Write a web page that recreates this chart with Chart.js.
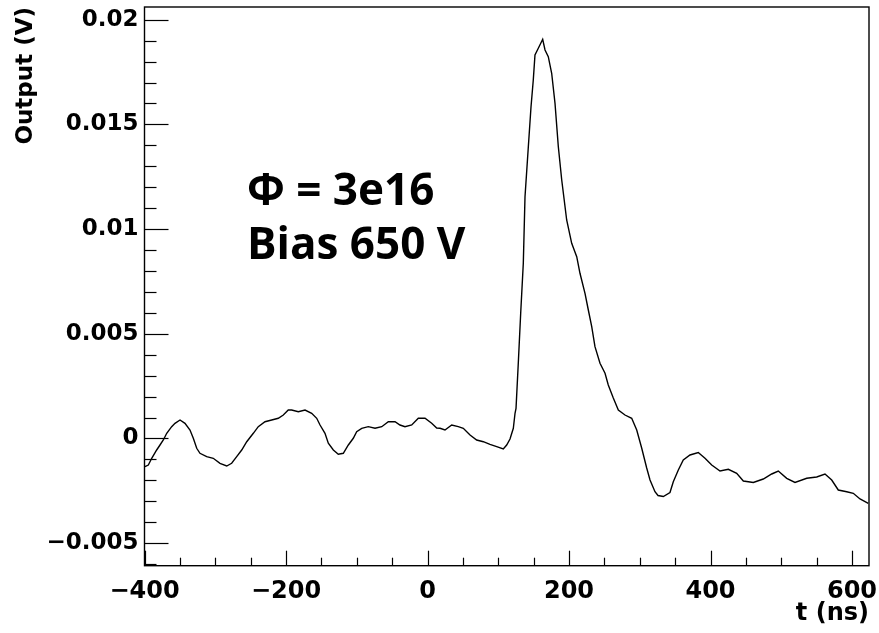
<!DOCTYPE html>
<html><head><meta charset="utf-8">
<script src="https://cdn.jsdelivr.net/npm/chart.js@4/dist/chart.umd.min.js"></script>
<style>html,body{margin:0;padding:0;background:#fff;overflow:hidden}#wrap{width:879px;height:633px;position:relative}</style>
</head><body><div id="wrap"><canvas id="c"></canvas></div>
<script>
// time (ns)
const times = [-399.3,-394.6,-389.8,-382.8,-378.1,-373.4,-368.6,-361.6,-356.9,-349.8,
-342.8,-335.7,-331.0,-326.2,-321.6,-312.1,-302.8,-293.3,-283.8,-276.8,
-269.7,-262.6,-255.5,-246.2,-239.2,-229.7,-220.2,-210.9,-203.8,-196.8,
-192.0,-182.6,-173.1,-163.7,-156.6,-151.9,-144.9,-140.2,-133.1,-126.1,
-119.0,-111.9,-104.9,-100.1,-93.0,-83.7,-74.2,-64.7,-55.4,-45.9,
-38.9,-31.8,-22.3,-13.0,-3.5,5.9,13.0,17.7,24.7,34.2,
43.5,50.6,60.1,69.5,78.9,88.3,97.8,107.1,111.9,116.6,
121.3,123.7,125.1,128.3,131.7,135.4,137.8,142.5,146.3,149.5,
151.9,156.6,162.8,166.1,170.7,175.5,180.2,184.9,189.7,196.7,
203.8,210.9,215.5,222.6,227.3,232.1,236.7,243.8,250.9,255.5,
262.6,269.7,279.1,288.6,295.7,302.7,309.8,314.5,321.5,325.8,
333.3,342.7,347.4,354.5,361.5,371.0,382.7,392.2,401.7,413.4,
425.2,437.0,446.4,460.5,474.6,486.5,495.8,507.7,519.4,536.0,
550.1,561.8,571.3,580.6,592.5,601.8,611.3,623.0];
// output (V)
const output = [-0.001347,-0.001266,-0.000946,-0.000549,-0.000310,-0.000072,0.000248,0.000564,0.000726,0.000884,
0.000726,0.000406,0.000010,-0.000468,-0.000707,-0.000869,-0.000946,-0.001184,-0.001313,-0.001184,
-0.000869,-0.000549,-0.000153,0.000248,0.000564,0.000802,0.000884,0.000965,0.001122,0.001361,
0.001361,0.001280,0.001361,0.001204,0.000965,0.000645,0.000248,-0.000229,-0.000549,-0.000755,
-0.000707,-0.000310,0.000010,0.000325,0.000487,0.000564,0.000487,0.000564,0.000802,0.000802,
0.000645,0.000564,0.000645,0.000965,0.000965,0.000726,0.000501,0.000487,0.000406,0.000645,
0.000564,0.000487,0.000167,-0.000072,-0.000153,-0.000277,-0.000392,-0.000501,-0.000310,-0.000024,
0.000487,0.001204,0.001442,0.003592,0.005980,0.008368,0.011548,0.013936,0.015847,0.017122,
0.018316,0.018636,0.019066,0.018555,0.018235,0.017442,0.016009,0.013936,0.012346,0.010436,
0.009323,0.008683,0.007890,0.006935,0.006137,0.005340,0.004384,0.003592,0.003114,0.002555,
0.001934,0.001361,0.001122,0.000965,0.000406,-0.000454,-0.001409,-0.001982,-0.002541,-0.002722,
-0.002770,-0.002579,-0.002063,-0.001504,-0.001027,-0.000788,-0.000669,-0.000946,-0.001266,-0.001552,
-0.001471,-0.001662,-0.002030,-0.002101,-0.001934,-0.001695,-0.001552,-0.001901,-0.002101,-0.001901,
-0.001839,-0.001695,-0.001982,-0.002460,-0.002541,-0.002617,-0.002889,-0.003095];

const xTickValues = [-400, -200, 0, 200, 400, 600];
const xTickLabels = ['\u2212400', '\u2212200', '0', '200', '400', '600'];
const yTickValues = [-0.005, 0, 0.005, 0.01, 0.015, 0.02];
const yTickLabels = ['\u22120.005', '0', '0.005', '0.01', '0.015', '0.02'];
const xTitle = 't (ns)';
const yTitle = 'Output (V)';
const annotationLines = ['\u03A6 = 3e16', 'Bias 650 V'];

const X_MIN = -400, X_MAX = 624, X_MINOR = 50;
const Y_MIN = -0.006075, Y_MAX = 0.020608, Y_MINOR = 0.001;

const points = times.map((t, i) => ({x: t, y: output[i]}));
const axisFont = {family: 'DejaVu Sans', weight: 'bold'};

const rootFrame = {
  id: 'rootFrame',
  afterDatasetsDraw(chart) {
    const {ctx, chartArea: a, scales: {x, y}} = chart;
    ctx.save();
    ctx.strokeStyle = '#000';
    ctx.lineWidth = 1.4;
    ctx.strokeRect(a.left, a.top, a.right - a.left, a.bottom - a.top);
    ctx.lineWidth = 1.2;
    const n0 = Math.ceil(Y_MIN / Y_MINOR - 1e-9), n1 = Math.floor(Y_MAX / Y_MINOR + 1e-9);
    for (let i = n0; i <= n1; i++) {
      const py = Math.round(y.getPixelForValue(i * Y_MINOR)) + 0.5;
      const len = (i % 5 === 0) ? 24 : 12;
      ctx.beginPath(); ctx.moveTo(a.left, py); ctx.lineTo(a.left + len, py); ctx.stroke();
    }
    for (let t = X_MIN; t <= X_MAX; t += X_MINOR) {
      const px = Math.round(x.getPixelForValue(t)) + 0.5;
      const len = (t % 200 === 0) ? 15 : 8;
      ctx.beginPath(); ctx.moveTo(px, a.bottom); ctx.lineTo(px, a.bottom - len); ctx.stroke();
    }
    ctx.restore();
  },
  afterDraw(chart) {
    const {ctx} = chart;
    ctx.save();
    ctx.fillStyle = '#000';
    ctx.font = 'bold 44px "Open Sans", "Noto Sans", sans-serif';
    ctx.textBaseline = 'alphabetic';
    ctx.textAlign = 'left';
    ctx.fillText(annotationLines[0], 247, 205);
    ctx.fillText(annotationLines[1], 247, 259);
    ctx.restore();
  }
};

new Chart(document.getElementById('c'), {
  type: 'line',
  data: {datasets: [{
    data: points,
    borderColor: '#000',
    borderWidth: 1.4,
    pointRadius: 0,
    tension: 0,
    fill: false
  }]},
  options: {
    responsive: true,
    maintainAspectRatio: false,
    animation: false,
    events: [],
    layout: {padding: {top: 7, right: 10, left: 0, bottom: 0}},
    plugins: {legend: {display: false}, tooltip: {enabled: false}},
    scales: {
      x: {
        type: 'linear', min: X_MIN, max: X_MAX,
        grid: {display: false, drawTicks: false},
        border: {display: false},
        afterBuildTicks(s) { s.ticks = xTickValues.map(v => ({value: v})); },
        afterFit(s) { s.height = 67.3; s.paddingLeft = 0; s.paddingRight = 0; },
        ticks: {
          color: '#000', padding: 12,
          font: {...axisFont, size: 24},
          maxRotation: 0, autoSkip: false,
          callback: (v) => { const i = xTickValues.indexOf(v); return i >= 0 ? xTickLabels[i] : ''; }
        },
        title: {display: true, text: xTitle, align: 'end', color: '#000',
          font: {...axisFont, size: 24}, padding: {top: 0, bottom: 5}}
      },
      y: {
        type: 'linear', min: Y_MIN, max: Y_MAX,
        grid: {display: false, drawTicks: false},
        border: {display: false},
        afterBuildTicks(s) { s.ticks = yTickValues.map(v => ({value: v})); },
        afterFit(s) { s.width = 144.5; s.paddingTop = 0; s.paddingBottom = 0; },
        ticks: {
          color: '#000', padding: 6,
          font: {...axisFont, size: 23},
          callback: (v) => { const i = yTickValues.findIndex(t => Math.abs(t - v) < 1e-9); return i >= 0 ? yTickLabels[i] : ''; }
        },
        title: {display: true, text: yTitle, align: 'end', color: '#000',
          font: {...axisFont, size: 23}, padding: {top: 12, bottom: 0}}
      }
    }
  },
  plugins: [rootFrame]
});
</script></body></html>
